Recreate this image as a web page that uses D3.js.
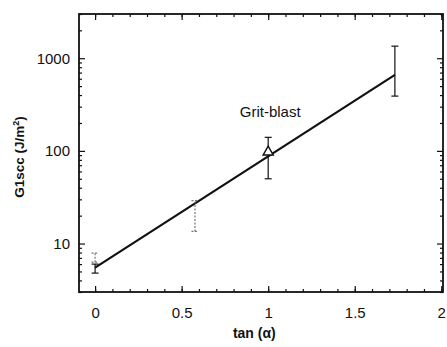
<!DOCTYPE html>
<html>
<head>
<meta charset="utf-8">
<script src="https://cdn.jsdelivr.net/npm/d3@7"></script>
<style>
body { margin: 0; background: #fff; }
text { font-family: "Liberation Sans", Arial, sans-serif; }
</style>
</head>
<body>
<svg id="chart"></svg>
<script>
// tan(alpha) for each measurement, G1scc mean and error bar ends (J/m2)
var tanAlpha = [0, 0, 0.577, 1, 1.732];
var g1scc = [5.4, 7.0, 20, 97, 700];
var errLow = [4.8, 6.3, 13.5, 50, 390];
var errHigh = [6.0, 7.9, 29, 140, 1350];
var sampleType = ["smooth", "repeat", "repeat", "grit-blast", "smooth"];

// fitted line end points
var fitTan = [0, 1.732];
var fitG = [5.5, 660];

var xTicks = [0, 0.5, 1, 1.5, 2];
var yTicks = [10, 100, 1000];

var width = 447, height = 347;
var margin = {left: 79, right: 4, top: 14, bottom: 55};

var svg = d3.select("#chart")
	.attr("width", width)
	.attr("height", height);

var xScale = d3.scaleLinear()
	.domain([-0.093, 2.01])
	.range([margin.left, width - margin.right]);
var yScale = d3.scaleLog()
	.domain([3, 3000])
	.range([height - margin.bottom, margin.top]);

var x0 = margin.left, x1 = width - margin.right;
var y0 = height - margin.bottom, y1 = margin.top;

var xMinor = d3.range(0, 2.01, 0.1).map(function (d) { return +d.toFixed(1); });
var yMinor = [];
[1, 10, 100, 1000].forEach(function (dec) {
	for (var k = 2; k <= 9; k++) {
		var v = dec * k;
		if (v >= 3 && v <= 3000) yMinor.push(v);
	}
});

function noDomain(g) { g.select(".domain").remove(); }

// bottom axis
svg.append("g")
	.attr("transform", "translate(0," + y0 + ")")
	.call(d3.axisBottom(xScale).tickValues(xMinor).tickSize(-3).tickFormat(""))
	.call(noDomain);
svg.append("g")
	.attr("transform", "translate(0," + y0 + ")")
	.call(d3.axisBottom(xScale).tickValues(xTicks).tickSize(-6).tickPadding(15)
		.tickFormat(function (d) { return d; }))
	.call(noDomain)
	.selectAll("text").attr("font-size", 15).attr("fill", "#111");
// top axis
svg.append("g")
	.attr("transform", "translate(0," + y1 + ")")
	.call(d3.axisTop(xScale).tickValues(xMinor).tickSize(-3).tickFormat(""))
	.call(noDomain);
svg.append("g")
	.attr("transform", "translate(0," + y1 + ")")
	.call(d3.axisTop(xScale).tickValues(xTicks).tickSize(-6).tickFormat(""))
	.call(noDomain);
// left axis
svg.append("g")
	.attr("transform", "translate(" + x0 + ",0)")
	.call(d3.axisLeft(yScale).tickValues(yMinor).tickSize(-3).tickFormat(""))
	.call(noDomain);
svg.append("g")
	.attr("transform", "translate(" + x0 + ",0)")
	.call(d3.axisLeft(yScale).tickValues(yTicks).tickSize(-6).tickPadding(9)
		.tickFormat(function (d) { return d; }))
	.call(noDomain)
	.selectAll("text").attr("font-size", 15).attr("fill", "#111");
// right axis
svg.append("g")
	.attr("transform", "translate(" + x1 + ",0)")
	.call(d3.axisRight(yScale).tickValues(yMinor).tickSize(-3).tickFormat(""))
	.call(noDomain);
svg.append("g")
	.attr("transform", "translate(" + x1 + ",0)")
	.call(d3.axisRight(yScale).tickValues(yTicks).tickSize(-6).tickFormat(""))
	.call(noDomain);

svg.selectAll(".tick line").attr("stroke", "#111").attr("stroke-width", 1.2);

// frame
svg.append("rect")
	.attr("x", x0).attr("y", y1)
	.attr("width", x1 - x0).attr("height", y0 - y1)
	.attr("fill", "none").attr("stroke", "#111").attr("stroke-width", 1.8);

// fitted line
var line = d3.line()
	.x(function (d, i) { return xScale(fitTan[i]); })
	.y(function (d) { return yScale(d); });
svg.append("path")
	.datum(fitG)
	.attr("d", line)
	.attr("fill", "none")
	.attr("stroke", "#111")
	.attr("stroke-width", 2.2);

// error bars
var bars = svg.selectAll(".err")
	.data(g1scc)
	.enter()
	.append("g")
	.attr("class", "err")
	.attr("stroke", function (d, i) { return sampleType[i] == "repeat" ? "#777" : "#111"; })
	.attr("stroke-dasharray", function (d, i) { return sampleType[i] == "repeat" ? "2,1.5" : null; })
	.attr("stroke-width", 1.2);
bars.append("line")
	.attr("x1", function (d, i) { return xScale(tanAlpha[i]); })
	.attr("x2", function (d, i) { return xScale(tanAlpha[i]); })
	.attr("y1", function (d, i) { return yScale(errLow[i]); })
	.attr("y2", function (d, i) { return yScale(errHigh[i]); });
bars.append("line")
	.attr("x1", function (d, i) { return xScale(tanAlpha[i]) - 3.5; })
	.attr("x2", function (d, i) { return xScale(tanAlpha[i]) + 3.5; })
	.attr("y1", function (d, i) { return yScale(errLow[i]); })
	.attr("y2", function (d, i) { return yScale(errLow[i]); });
bars.append("line")
	.attr("x1", function (d, i) { return xScale(tanAlpha[i]) - 3.5; })
	.attr("x2", function (d, i) { return xScale(tanAlpha[i]) + 3.5; })
	.attr("y1", function (d, i) { return yScale(errHigh[i]); })
	.attr("y2", function (d, i) { return yScale(errHigh[i]); });

// grit-blast marker
svg.selectAll(".tri")
	.data(g1scc.filter(function (d, i) { return sampleType[i] == "grit-blast"; }))
	.enter()
	.append("path")
	.attr("d", d3.symbol().type(d3.symbolTriangle).size(45))
	.attr("transform", function (d) {
		var i = g1scc.indexOf(d);
		return "translate(" + xScale(tanAlpha[i]) + "," + yScale(d) + ")";
	})
	.attr("fill", "#fff")
	.attr("stroke", "#111")
	.attr("stroke-width", 1.4);

svg.append("text")
	.attr("x", xScale(1) + 2)
	.attr("y", yScale(230))
	.attr("text-anchor", "middle")
	.attr("font-size", 15)
	.attr("fill", "#111")
	.text("Grit-blast");

// axis titles
svg.append("text")
	.attr("x", xScale(0.92))
	.attr("y", 338)
	.attr("text-anchor", "middle")
	.attr("font-size", 14)
	.attr("font-weight", "bold")
	.attr("fill", "#111")
	.text("tan (α)");

var yt = svg.append("text")
	.attr("transform", "translate(24," + ((y0 + y1) / 2 + 4) + ") rotate(-90)")
	.attr("text-anchor", "middle")
	.attr("font-size", 13.5)
	.attr("font-weight", "bold")
	.attr("fill", "#111");
yt.append("tspan").text("G1scc (J/m");
yt.append("tspan").attr("font-size", 9).attr("dy", -5).text("2");
yt.append("tspan").attr("dy", 5).text(")");
</script>
</body>
</html>
